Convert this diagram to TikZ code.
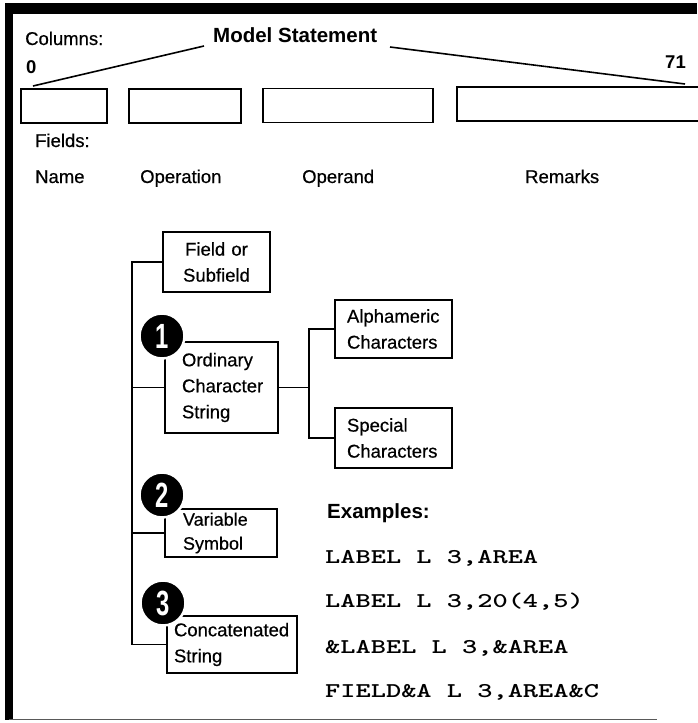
\documentclass[tikz,border=0pt]{standalone}
\usepackage{fontspec}
\setmainfont{Liberation Sans}
\newfontfamily\regf[FakeBold=0.5]{Liberation Sans}
\newcommand{\exline}[1]{\scalebox{1.38}[1]{\fontsize{21}{24}\selectfont\ttfamily\bfseries #1}}
\begin{document}
\begin{tikzpicture}[x=1pt,y=-1pt,
  lw/.style={line width=1.8pt},
  txt/.style={inner sep=0pt, font=\fontsize{18.5}{22}\regf},
  btxt/.style={inner sep=0pt, font=\fontsize{20.5}{24}\selectfont\bfseries},
  mono/.style={inner sep=0pt},
  colbox/.style={draw, line width=1.8pt, inner sep=0pt, minimum height=34pt},
  tbox/.style={draw, line width=1.8pt, inner xsep=#1, inner ysep=0pt, align=left,
     font=\fontsize{18.5}{26}\regf},
  badge/.style={circle, fill=black, draw=white, line width=2.5pt, minimum size=45pt,
     inner sep=0pt, text=white, font=\fontsize{35}{35}\selectfont\bfseries}
]
\useasboundingbox (0,0) rectangle (697,723);
% border
\fill (5,3) rectangle (697,14);
\fill (5,3) rectangle (13,720);
\draw[black!65, line width=1.5pt] (9,719.5) -- (657,719.5);

% header texts
\node[txt, anchor=base west] (cols) at (25,45) {Columns:};
\node[btxt, anchor=base west] (ms) at (213,42) {Model Statement};
\node[txt, anchor=base west, font=\fontsize{18.5}{22}\selectfont\bfseries] (zero) at (26,73) {0};
\node[txt, anchor=base east, font=\fontsize{18.5}{22}\selectfont\bfseries] (c71) at (686,68) {71};

% column boxes
\node[colbox, minimum width=86pt] (b1) at (64,106) {};
\node[colbox, minimum width=112pt] (b2) at (185,106) {};
\node[colbox, minimum width=170pt] (b3) at (348,105.5) {};
\node[colbox, minimum width=263pt] (b4) at (588.5,104) {};

% slanted lines
\coordinate (ml) at (204,46);
\coordinate (mr) at (390,47);
\coordinate (e0) at (33,86);
\coordinate (e71) at (685,84);
\draw[line width=1.6pt] (ml) -- (e0);
\draw[line width=1.6pt] (mr) -- (e71);

% field labels
\node[txt, anchor=base west] (fields) at (35,147) {Fields:};
\node[txt, anchor=base west] (fname) at (35,183) {Name};
\node[txt, anchor=base west] (fop) at (140,183) {Operation};
\node[txt, anchor=base west] (fopd) at (302,183) {Operand};
\node[txt, anchor=base west] (frem) at (525,183) {Remarks};

% tree boxes
\node[tbox=8pt, align=center, minimum width=107pt, minimum height=60pt, text width=91pt] (field) at (216.5,262) {Field or\\Subfield};
\node[tbox=17pt, minimum width=113pt, minimum height=91pt, text width=79pt] (ord) at (221.5,387.5) {Ordinary\\Character\\String};
\node[tbox=12pt, minimum width=117pt, minimum height=58pt, text width=93pt] (alph) at (393.5,329) {Alphameric\\Characters};
\node[tbox=12pt, minimum width=117pt, minimum height=60pt, text width=93pt] (spec) at (393.5,438) {Special\\Characters};
\node[tbox=18pt, minimum width=112pt, minimum height=48pt, text width=76pt, font=\fontsize{18}{24}\regf] (var) at (221,533) {Variable\\Symbol};
\node[tbox=7pt, minimum width=130pt, minimum height=57pt, text width=116pt] (concat) at (232,644.5) {Concatenated\\String};

% connectors
\draw[lw] (field.west) -- ++(-30,0) coordinate (ttop) |- (concat.west);
\draw[lw] (ord.west) -- (ord.west -| ttop);
\draw[lw] (var.west) -- (var.west -| ttop);
\draw[lw] (ord.east) -- ++(30,0) coordinate (fork);
\draw[lw] (alph.west) -| (fork);
\draw[lw] (spec.west) -| (fork);

% badges
\node[badge] (n1) at (162,336) {\scalebox{0.68}[1]{1}};
\node[badge] (n2) at (162,495) {\scalebox{0.68}[1]{2}};
\node[badge] (n3) at (163,603) {\scalebox{0.68}[1]{3}};

% examples
\node[btxt, anchor=base west] (ex) at (327,518) {Examples:};
\node[mono, anchor=base west] (e1) at (325,563) {\exline{LABEL L 3,AREA}};
\node[mono, anchor=base west] (e2) at (325,607) {\exline{LABEL L 3,20(4,5)}};
\node[mono, anchor=base west] (e3) at (325,653) {\exline{\&LABEL L 3,\&AREA}};
\node[mono, anchor=base west] (e4) at (325,697) {\exline{FIELD\&A L 3,AREA\&C}};
\end{tikzpicture}
\end{document}
